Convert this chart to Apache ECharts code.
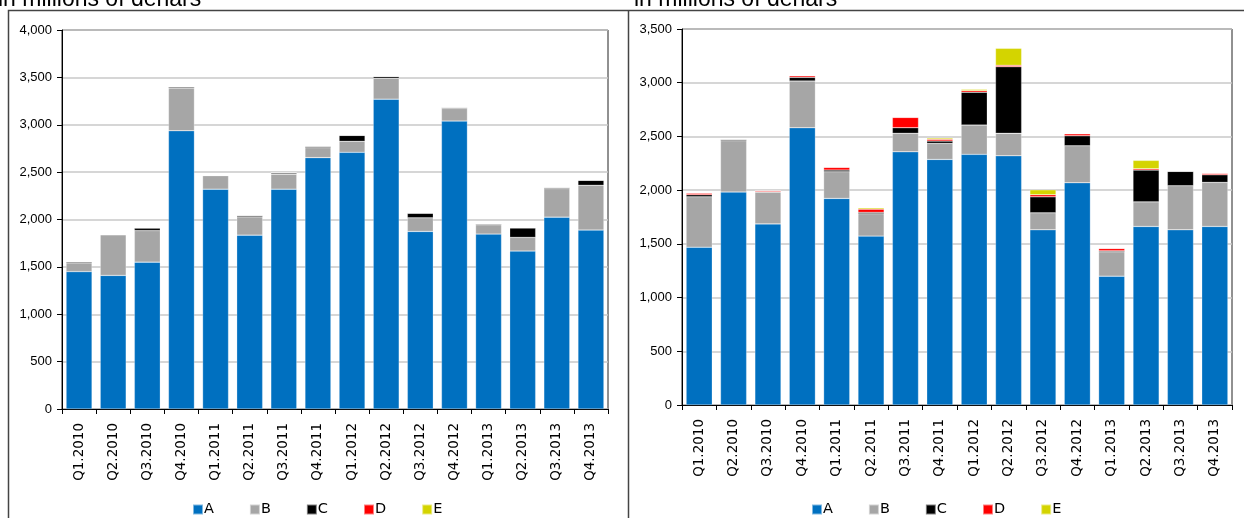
<!DOCTYPE html>
<html>
<head>
<meta charset="utf-8">
<script src="https://cdn.jsdelivr.net/npm/echarts@6/dist/echarts.min.js"></script>
<style>
  html, body { margin: 0; padding: 0; background: #fff; }
  #chart { width: 1244px; height: 518px; }
</style>
</head>
<body>
<div id="chart"></div>
<script>
// quarters on both charts
var categories = ['Q1.2010', 'Q2.2010', 'Q3.2010', 'Q4.2010', 'Q1.2011', 'Q2.2011', 'Q3.2011', 'Q4.2011',
  'Q1.2012', 'Q2.2012', 'Q3.2012', 'Q4.2012', 'Q1.2013', 'Q2.2013', 'Q3.2013', 'Q4.2013'];
var seriesNames = ['A', 'B', 'C', 'D', 'E'];

// left chart, in millions of denars
var leftA = [1450, 1410, 1550, 2937, 2320, 1835, 2320, 2653, 2709, 3270, 1874, 3039, 1846, 1667, 2025, 1888];
var leftB = [92, 428, 333, 450, 143, 193, 158, 105, 116, 221, 144, 133, 98, 144, 301, 473];
var leftC = [12, 3, 28, 13, 3, 14, 14, 14, 63, 18, 49, 10, 10, 101, 11, 53];
var leftD = [0, 0, 0, 0, 0, 0, 0, 0, 0, 0, 0, 0, 0, 0, 0, 0];
var leftE = [0, 0, 0, 0, 0, 0, 0, 0, 0, 0, 0, 0, 0, 0, 0, 0];

// right chart, in millions of denars
var rightA = [1469, 1982, 1686, 2581, 1923, 1572, 2357, 2286, 2333, 2320, 1631, 2069, 1199, 1662, 1631, 1662];
var rightB = [469, 478, 296, 435, 248, 208, 172, 149, 273, 209, 158, 344, 227, 229, 410, 410];
var rightC = [19, 12, 3, 34, 16, 13, 52, 22, 305, 620, 149, 93, 9, 296, 134, 71];
var rightD = [15, 0, 10, 15, 25, 30, 96, 16, 15, 13, 19, 19, 22, 12, 0, 13];
var rightE = [0, 0, 0, 0, 0, 12, 0, 12, 12, 158, 46, 0, 0, 78, 0, 0];

var colors = ['#0070c0', '#a6a6a6', '#000000', '#ff0000', '#d4d400'];
var titleText = 'in millions of denars';

var chart = echarts.init(document.getElementById('chart'));

function xAxisFor(idx) {
  return {
    type: 'category',
    gridIndex: idx,
    data: categories,
    boundaryGap: true,
    axisLine: { show: true, lineStyle: { color: '#000', width: 1 } },
    axisTick: { show: true, interval: 0, length: 5, lineStyle: { color: '#000' } },
    axisLabel: {
      interval: 0,
      rotate: 90,
      margin: 14,
      color: '#000',
      fontSize: 13.5,
      fontFamily: 'DejaVu Sans, sans-serif'
    },
    splitLine: { show: false }
  };
}

function yAxisFor(idx, max) {
  return {
    type: 'value',
    gridIndex: idx,
    min: 0,
    max: max,
    interval: 500,
    axisLine: { show: true, lineStyle: { color: '#000', width: 1 } },
    axisTick: { show: true, length: 5, lineStyle: { color: '#000' } },
    axisLabel: {
      margin: 10,
      color: '#000',
      fontSize: 13,
      fontFamily: 'Liberation Sans, Arial, sans-serif',
      formatter: function (v) { return v.toLocaleString('en-US'); }
    },
    splitLine: { show: true, lineStyle: { color: '#c8c8c8', width: 1.5 } }
  };
}

function stackSeries(idx, stack, arrays) {
  return arrays.map(function (arr, i) {
    return {
      name: seriesNames[i],
      type: 'bar',
      stack: stack,
      xAxisIndex: idx,
      yAxisIndex: idx,
      barWidth: '76%',
      data: arr,
      itemStyle: { color: colors[i], borderColor: 'rgba(255,255,255,0.5)', borderWidth: 0.5 }
    };
  });
}

function legendFor(left) {
  return {
    left: left,
    top: 497,
    icon: 'rect',
    itemWidth: 10,
    itemHeight: 10,
    itemGap: 35,
    data: seriesNames,
    selectedMode: false,
    textStyle: {
      color: '#000',
      fontSize: 14.5,
      padding: [0, 0, 0, -4],
      fontFamily: 'DejaVu Sans, sans-serif'
    }
  };
}

var option = {
  animation: false,
  color: colors,
  grid: [
    { left: 62, right: 636, top: 30, bottom: 109, show: true, borderColor: '#222', borderWidth: 1 },
    { left: 682, right: 12, top: 29, bottom: 113, show: true, borderColor: '#222', borderWidth: 1 }
  ],
  legend: [legendFor(187), legendFor(806)],
  xAxis: [xAxisFor(0), xAxisFor(1)],
  yAxis: [yAxisFor(0, 4000), yAxisFor(1, 3500)],
  series: stackSeries(0, 'left', [leftA, leftB, leftC, leftD, leftE])
    .concat(stackSeries(1, 'right', [rightA, rightB, rightC, rightD, rightE])),
  graphic: [
    // panel frame
    { type: 'polyline', shape: { points: [[8.5, 518], [8.5, 10.5], [1244, 10.5]] },
      style: { stroke: '#444', lineWidth: 1.5, fill: null } },
    { type: 'line', shape: { x1: 628.5, y1: 10.5, x2: 628.5, y2: 518 },
      style: { stroke: '#444', lineWidth: 1.5 } },
    // cut-off titles
    { type: 'text', x: -2, y: 11,
      style: { text: titleText, font: '23px "Liberation Sans", Arial, sans-serif', fill: '#000', textVerticalAlign: 'bottom' } },
    { type: 'text', x: 634, y: 11,
      style: { text: titleText, font: '23px "Liberation Sans", Arial, sans-serif', fill: '#000', textVerticalAlign: 'bottom' } }
  ]
};

chart.setOption(option);
</script>
</body>
</html>
